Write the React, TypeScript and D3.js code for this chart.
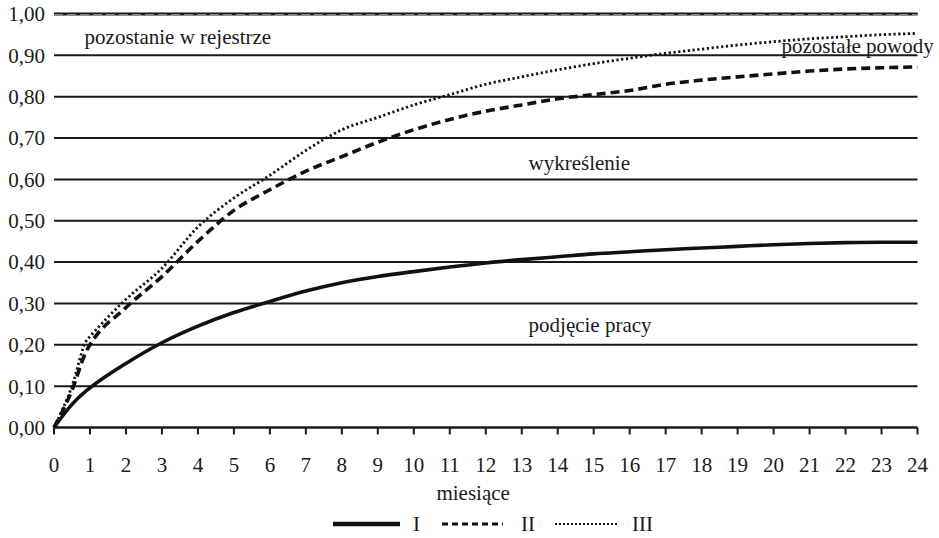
import React from "react";
import * as d3 from "d3";

const months = [0, 0.5, 0.9, 1, 2, 3, 4, 5, 6, 7, 8, 9, 10, 11, 12, 13, 14, 15, 16, 17, 18, 19, 20, 21, 22, 23, 24];
const seriesI = [0, 0.056, 0.089, 0.096, 0.155, 0.205, 0.245, 0.278, 0.305, 0.33, 0.35, 0.365, 0.377, 0.388, 0.398, 0.406, 0.413, 0.42, 0.425, 0.43, 0.434, 0.438, 0.442, 0.445, 0.447, 0.448, 0.448];
const seriesII = [0, 0.09, 0.185, 0.2, 0.29, 0.365, 0.45, 0.525, 0.575, 0.62, 0.655, 0.69, 0.72, 0.745, 0.765, 0.78, 0.795, 0.805, 0.815, 0.83, 0.84, 0.848, 0.855, 0.862, 0.867, 0.87, 0.872];
const seriesIII = [0, 0.1, 0.21, 0.22, 0.31, 0.385, 0.485, 0.555, 0.61, 0.67, 0.72, 0.75, 0.78, 0.805, 0.83, 0.848, 0.865, 0.88, 0.893, 0.905, 0.915, 0.925, 0.933, 0.94, 0.945, 0.95, 0.953];
const yTicks = [0, 0.1, 0.2, 0.3, 0.4, 0.5, 0.6, 0.7, 0.8, 0.9, 1.0];
const xTicks = d3.range(0, 25);
const seriesNames = ["I", "II", "III"];
const areaLabels = [
  { text: "pozostanie w rejestrze", m: 0.85, v: 0.927, anchor: "start" },
  { text: "pozostałe powody", m: 20.22, v: 0.906, anchor: "start" },
  { text: "wykreślenie", m: 14.6, v: 0.623, anchor: "middle" },
  { text: "podjęcie pracy", m: 14.9, v: 0.231, anchor: "middle" },
];

const FONT = "Liberation Serif, Times New Roman, Times, serif";

export default function App() {
  const W = 939, H = 538;
  const x = d3.scaleLinear().domain([0, 24]).range([54, 917.5]);
  const y = d3.scaleLinear().domain([0, 1]).range([427.5, 14]);
  const line = d3
    .line<number>()
    .x((_, i) => x(months[i]))
    .y((d) => y(d))
    .curve(d3.curveMonotoneX);

  const styles = [
    { data: seriesI, width: 3.6, dash: "none" },
    { data: seriesII, width: 3.6, dash: "9,5" },
    { data: seriesIII, width: 2.8, dash: "2.2,2.6" },
  ];

  const legendItems = [
    { x1: 333, x2: 400, tx: 413, width: 4.5, dash: "none" },
    { x1: 442, x2: 503, tx: 521, width: 3, dash: "6,4" },
    { x1: 555, x2: 618, tx: 632, width: 2, dash: "2,2" },
  ];

  const ts = { fontFamily: FONT, fontSize: 21, fill: "#1a1a1a" } as React.CSSProperties;

  return (
    <svg
      width={W}
      height={H}
      style={{ position: "absolute", left: 0, top: 0, background: "#fff" }}
    >
      {yTicks.map((t) => (
        <g key={t}>
          <line x1={x(0)} x2={x(24)} y1={y(t)} y2={y(t)} stroke="#1a1a1a" strokeWidth={t === 0 ? 2.4 : 2} />
          <text x={45} y={y(t)} dy="0.35em" textAnchor="end" style={ts}>
            {t.toFixed(2).replace(".", ",")}
          </text>
        </g>
      ))}
      <line x1={x(0)} x2={x(24)} y1={y(1)} y2={y(1)} stroke="#1a1a1a" strokeWidth={3} />
      <line x1={x(0)} x2={x(24)} y1={y(1) + 0.5} y2={y(1) + 0.5} stroke="#888" strokeWidth={1.2} strokeDasharray="9,4" />
      {xTicks.map((t) => (
        <g key={t}>
          <line x1={x(t)} x2={x(t)} y1={y(0)} y2={y(0) + 7} stroke="#1a1a1a" strokeWidth={2} />
          <text x={x(t)} y={472} textAnchor="middle" style={ts}>
            {t}
          </text>
        </g>
      ))}
      {styles.map((s, i) => (
        <path
          key={seriesNames[i]}
          d={line(s.data) || ""}
          fill="none"
          stroke="#111"
          strokeWidth={s.width}
          strokeDasharray={s.dash}
          strokeLinejoin="round"
        />
      ))}
      {areaLabels.map((l) => (
        <text key={l.text} x={x(l.m)} y={y(l.v)} textAnchor={l.anchor as any} style={ts}>
          {l.text}
        </text>
      ))}
      <text x={x(11.65)} y={500} textAnchor="middle" style={ts}>
        miesiące
      </text>
      {legendItems.map((l, i) => (
        <g key={seriesNames[i]}>
          <line x1={l.x1} x2={l.x2} y1={524} y2={524} stroke="#111" strokeWidth={l.width} strokeDasharray={l.dash} />
          <text x={l.tx} y={531} style={ts}>
            {seriesNames[i]}
          </text>
        </g>
      ))}
    </svg>
  );
}
